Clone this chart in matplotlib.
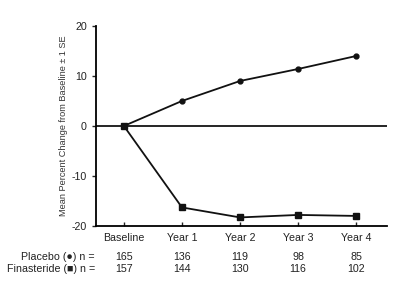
import matplotlib.pyplot as plt

plt.rcParams['font.family'] = ['Liberation Sans', 'DejaVu Sans']
plt.rcParams['axes.unicode_minus'] = False

visits = ['Baseline', 'Year 1', 'Year 2', 'Year 3', 'Year 4']
placebo = [0, 5.0, 9.0, 11.4, 14.0]
finasteride = [0, -16.3, -18.3, -17.8, -18.0]
placebo_n = [165, 136, 119, 98, 85]
finasteride_n = [157, 144, 130, 116, 102]

x = list(range(len(visits)))

fig = plt.figure(figsize=(4, 2.81), dpi=100)
ax = fig.add_axes([0.24, 0.196, 0.7275, 0.7115])

ax.axhline(0, color='black', lw=1.2, zorder=1)
ax.plot(x, placebo, color='#111111', lw=1.3, marker='o', ms=3.5, zorder=3)
ax.plot(x, finasteride, color='#111111', lw=1.3, marker='s', ms=4, zorder=3)

ax.set_xlim(-0.48, 4.53)
ax.set_ylim(-20, 20)
ax.set_yticks([-20, -10, 0, 10, 20])
ax.set_xticks(x)
ax.set_xticklabels(visits)
ax.tick_params(axis='y', direction='out', length=3, labelsize=7.7, colors='#222222', width=1)
ax.tick_params(axis='x', direction='in', length=3, labelsize=7.7, colors='#222222', width=1, pad=5)
ax.spines['top'].set_visible(False)
ax.spines['right'].set_visible(False)
ax.spines['left'].set_linewidth(1.3)
ax.spines['bottom'].set_linewidth(1.3)
ax.set_ylabel('Mean Percent Change from Baseline \u00b1 1 SE', fontsize=6.6, color='#333333', labelpad=3)

# n-counts under the axis
trans = ax.get_xaxis_transform()
fig.text(0.237, 1 - 257 / 281, 'Placebo (\u25cf) n =', ha='right', va='center', fontsize=7.7, color='#222222')
fig.text(0.237, 1 - 269 / 281, 'Finasteride (\u25a0) n =', ha='right', va='center', fontsize=7.7, color='#222222')
for i in x:
    ax.text(i, -0.155, str(placebo_n[i]), transform=trans, ha='center', va='center', fontsize=7.7, color='#222222')
    ax.text(i, -0.215, str(finasteride_n[i]), transform=trans, ha='center', va='center', fontsize=7.7, color='#222222')

fig.savefig('out.png', dpi=100)
